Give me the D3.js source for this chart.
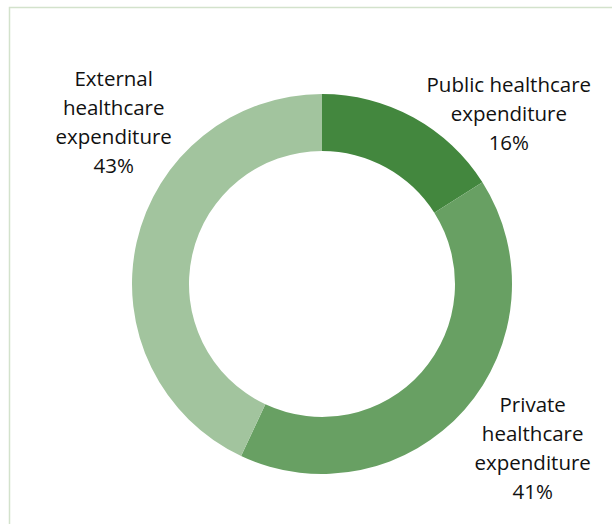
<!DOCTYPE html>
<html>
<head>
<meta charset="utf-8">
<script src="https://cdn.jsdelivr.net/npm/d3@7"></script>
<style>
  html, body { margin: 0; padding: 0; background: #fff; }
  svg { display: block; }
</style>
</head>
<body>
<script>
// Health expenditure shares by source
const categories = ["Public healthcare expenditure", "Private healthcare expenditure", "External healthcare expenditure"];
const labelLines = [["Public healthcare", "expenditure"], ["Private", "healthcare", "expenditure"], ["External", "healthcare", "expenditure"]];
const shares = [16, 41, 43];
const colors = ["#43873e", "#68a063", "#a2c49e"];

// Label placement (angle from 12 o'clock in degrees, distance from centre)
const labelPlacement = [
  { angle: 47.6, dist: 253 },
  { angle: 127.9, dist: 267 },
  { angle: 307.9, dist: 264 }
];

const W = 612, H = 524;
const cx = 322, cy = 284, outerR = 190, innerR = 133;

const svg = d3.select("body").append("svg")
  .attr("width", W).attr("height", H);

// Chart frame
svg.append("rect")
  .attr("x", 9.5).attr("y", 7.5)
  .attr("width", 620).attr("height", 540)
  .attr("fill", "#fff")
  .attr("stroke", "#d3e2cc").attr("stroke-width", 1.5);

const data = categories.map((c, i) => ({ name: c, value: shares[i], color: colors[i], lines: labelLines[i], place: labelPlacement[i] }));

const pie = d3.pie().value(d => d.value).sort(null);
const arc = d3.arc().innerRadius(innerR).outerRadius(outerR);

const g = svg.append("g").attr("transform", `translate(${cx},${cy})`);

g.selectAll("path.slice")
  .data(pie(data))
  .join("path")
  .attr("class", "slice")
  .attr("d", arc)
  .attr("fill", d => d.data.color);

const lineH = 29;
g.selectAll("text.lbl")
  .data(pie(data))
  .join("text")
  .attr("class", "lbl")
  .attr("text-anchor", "middle")
  .attr("font-family", "'Open Sans', sans-serif")
  .attr("font-size", 20.5)
  .attr("fill", "#111")
  .each(function (d) {
    const a = d.data.place.angle * Math.PI / 180;
    const x = Math.sin(a) * d.data.place.dist;
    const y = -Math.cos(a) * d.data.place.dist;
    const lines = d.data.lines.concat([d.data.value + "%"]);
    const t = d3.select(this);
    const y0 = y - (lines.length - 1) * lineH / 2;
    lines.forEach((ln, i) => {
      t.append("tspan")
        .attr("x", x)
        .attr("y", y0 + i * lineH)
        .attr("dy", "0.35em")
        .text(ln);
    });
  });
</script>
</body>
</html>
